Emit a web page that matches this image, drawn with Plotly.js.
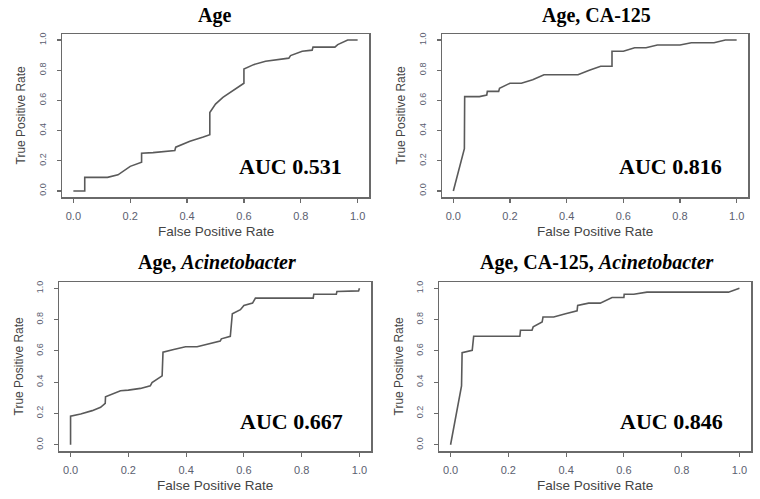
<!DOCTYPE html>
<html>
<head>
<meta charset="utf-8">
<script src="https://cdn.plot.ly/plotly-3.0.1.min.js"></script>
<style>html,body{margin:0;padding:0;background:#fff;}#chart{width:760px;height:499px;}</style>
</head>
<body>
<div id="chart"></div>
<script>
// Panel titles and AUC labels
const panelTitles = ["<b>Age</b>", "<b>Age, CA-125</b>", "<b>Age, <i>Acinetobacter</i></b>", "<b>Age, CA-125, <i>Acinetobacter</i></b>"];
const aucLabels = ["AUC 0.531", "AUC 0.816", "AUC 0.667", "AUC 0.846"];
const tickVals = [0, 0.2, 0.4, 0.6, 0.8, 1.0];
const tickText = ["0.0", "0.2", "0.4", "0.6", "0.8", "1.0"];

// ROC curve: Age
const fprAge = [0, 0.04, 0.04, 0.12, 0.157, 0.2, 0.24, 0.24, 0.28, 0.357, 0.36, 0.41, 0.457, 0.48, 0.48, 0.5, 0.526, 0.564, 0.6, 0.6, 0.634, 0.676, 0.717, 0.758, 0.764, 0.805, 0.84, 0.843, 0.92, 0.93, 0.965, 1.0];
const tprAge = [0, 0, 0.09, 0.09, 0.107, 0.163, 0.19, 0.25, 0.254, 0.268, 0.29, 0.33, 0.357, 0.373, 0.52, 0.576, 0.62, 0.67, 0.714, 0.808, 0.837, 0.86, 0.87, 0.88, 0.897, 0.926, 0.933, 0.953, 0.953, 0.97, 1.0, 1.0];

// ROC curve: Age, CA-125
const fprCA = [0, 0.039, 0.04, 0.092, 0.118, 0.12, 0.16, 0.163, 0.2, 0.24, 0.28, 0.32, 0.4, 0.44, 0.48, 0.52, 0.56, 0.56, 0.6, 0.64, 0.68, 0.72, 0.8, 0.84, 0.92, 0.96, 1.0];
const tprCA = [0, 0.28, 0.625, 0.625, 0.636, 0.66, 0.66, 0.68, 0.714, 0.714, 0.737, 0.77, 0.77, 0.77, 0.8, 0.826, 0.826, 0.926, 0.926, 0.949, 0.949, 0.967, 0.967, 0.982, 0.982, 1.0, 1.0];

// ROC curve: Age, Acinetobacter
const fprAcin = [0, 0, 0.035, 0.075, 0.104, 0.12, 0.121, 0.15, 0.173, 0.2, 0.242, 0.276, 0.282, 0.317, 0.32, 0.357, 0.398, 0.438, 0.478, 0.518, 0.522, 0.553, 0.56, 0.588, 0.6, 0.63, 0.64, 0.84, 0.842, 0.92, 0.922, 0.997, 1.0];
const tprAcin = [0, 0.182, 0.197, 0.218, 0.239, 0.264, 0.307, 0.328, 0.345, 0.349, 0.36, 0.376, 0.397, 0.44, 0.592, 0.609, 0.626, 0.626, 0.643, 0.662, 0.677, 0.693, 0.837, 0.863, 0.89, 0.905, 0.937, 0.937, 0.962, 0.962, 0.979, 0.983, 1.0];

// ROC curve: Age, CA-125, Acinetobacter
const fprAll = [0, 0.038, 0.04, 0.075, 0.08, 0.24, 0.242, 0.282, 0.286, 0.317, 0.32, 0.357, 0.398, 0.438, 0.44, 0.478, 0.518, 0.559, 0.6, 0.601, 0.634, 0.68, 0.962, 1.0];
const tprAll = [0, 0.376, 0.588, 0.603, 0.693, 0.693, 0.732, 0.732, 0.753, 0.784, 0.816, 0.816, 0.837, 0.856, 0.89, 0.905, 0.905, 0.941, 0.941, 0.962, 0.962, 0.975, 0.975, 1.0];

const curvesX = [fprAge, fprCA, fprAcin, fprAll];
const curvesY = [tprAge, tprCA, tprAcin, tprAll];

// Panel boxes in pixels [left, right, top, bottom]
const W = 760, H = 499;
const boxes = [[62, 369, 34, 197], [442, 748, 34, 197], [59, 371, 282, 451], [439, 751, 282, 451]];

const lineColor = "#5a5a5a";
const boxColor = "#6a6a6a";
const tickColor = "#5b6070";
const titleColor = "#444444";

const data = [];
const layout = {
  width: W, height: H,
  margin: {l: 0, r: 0, t: 0, b: 0},
  paper_bgcolor: "#ffffff", plot_bgcolor: "#ffffff",
  showlegend: false,
  annotations: []
};

for (let i = 0; i < 4; i++) {
  const s = i === 0 ? "" : String(i + 1);
  const b = boxes[i];
  data.push({
    x: curvesX[i], y: curvesY[i], type: "scatter", mode: "lines",
    xaxis: "x" + s, yaxis: "y" + s,
    line: {color: lineColor, width: 1.6},
    hoverinfo: "skip"
  });
  const common = {
    range: [-0.04, 1.04], showgrid: false, zeroline: false,
    showline: true, mirror: true, linecolor: boxColor, linewidth: 1.5,
    ticks: "outside", ticklen: 4, tickcolor: boxColor, tickwidth: 1.2,
    tickvals: tickVals, ticktext: tickText, fixedrange: true
  };
  layout["xaxis" + s] = Object.assign({}, common, {
    domain: [b[0] / W, b[1] / W], anchor: "y" + s,
    tickfont: {family: "Liberation Sans, Arial, sans-serif", size: 11, color: tickColor},
    ticklabelstandoff: 4
  });
  layout["yaxis" + s] = Object.assign({}, common, {
    domain: [1 - b[3] / H, 1 - b[2] / H], anchor: "x" + s,
    tickangle: -90,
    tickfont: {family: "Liberation Sans, Arial, sans-serif", size: 9, color: tickColor},
    ticklabelstandoff: 7
  });
  const cx = (b[0] + b[1]) / 2;
  // Panel title
  layout.annotations.push({
    text: panelTitles[i], xref: "paper", yref: "paper",
    x: (i % 2 === 0 ? (i === 0 ? 214 : 216.7) : 596.5) / W,
    y: 1 - (i < 2 ? 15 : 262.7) / H,
    xanchor: "center", yanchor: "middle", showarrow: false,
    font: {family: "Liberation Serif, Times New Roman, serif", size: 20, color: "#000"}
  });
  // AUC label in data coordinates
  layout.annotations.push({
    text: "<b>" + aucLabels[i] + "</b>", xref: "x" + s, yref: "y" + s,
    x: 0.765, y: i < 2 ? 0.163 : 0.147,
    xanchor: "center", yanchor: "middle", showarrow: false,
    font: {family: "Liberation Serif, Times New Roman, serif", size: 22, color: "#000"}
  });
  // Axis titles
  layout.annotations.push({
    text: "False Positive Rate", xref: "paper", yref: "paper",
    x: cx / W, y: 1 - (b[3] + 34) / H,
    xanchor: "center", yanchor: "middle", showarrow: false,
    font: {family: "Liberation Sans, Arial, sans-serif", size: 13.5, color: titleColor}
  });
  layout.annotations.push({
    text: "True Positive Rate", xref: "paper", yref: "paper",
    x: (b[0] - 41) / W, y: 1 - ((b[2] + b[3]) / 2) / H,
    xanchor: "center", yanchor: "middle", showarrow: false, textangle: -90,
    font: {family: "Liberation Sans, Arial, sans-serif", size: 12, color: titleColor}
  });
}

Plotly.newPlot("chart", data, layout, {staticPlot: true, displayModeBar: false});
</script>
</body>
</html>
